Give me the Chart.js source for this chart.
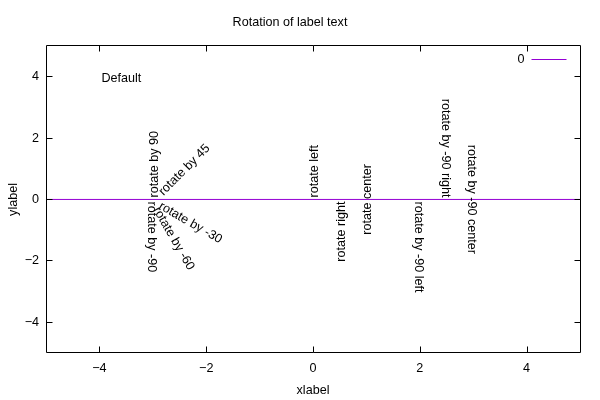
<!DOCTYPE html>
<html>
<head>
<meta charset="utf-8">
<script src="https://cdn.jsdelivr.net/npm/chart.js@4"></script>
<style>
  html, body { margin: 0; padding: 0; background: #fff; }
  #wrap { width: 600px; height: 400px; }
</style>
</head>
<body>
<div id="wrap"><canvas id="chart"></canvas></div>
<script>
// data -----------------------------------------------------------
const xTicks = [-4, -2, 0, 2, 4];
const yTicks = [-4, -2, 0, 2, 4];
const lineX  = [-5, 5];
const lineY  = [0, 0];

// text labels (data coords, angle in degrees ccw, justification)
const labelTexts  = ["Default", "rotate by 45", "rotate by 90", "rotate by -30", "rotate by -60", "rotate by -90",
                     "rotate left", "rotate right", "rotate center",
                     "rotate by -90 left", "rotate by -90 right", "rotate by -90 center"];
const labelX      = [-4, -3, -3, -3, -3, -3, 0, 0.5, 1, 2, 2.5, 3];
const labelY      = [4, 0, 0, 0, 0, 0, 0, 0, 0, 0, 0, 0];
const labelAngles = [0, 45, 90, -30, -60, -90, 90, 90, 90, -90, -90, -90];
const labelAligns = ["left", "left", "left", "left", "left", "left", "left", "right", "center", "left", "right", "center"];

const FONT = "Liberation Sans, Arial, sans-serif";
const FSIZE = 12.6;
const PURPLE = "#9400d3";
const minus = v => String(v).replace("-", "\u2212");

// frame + inward ticks, labels, key ---------------------------------
const decor = {
  id: "decor",
  afterDatasetsDraw(chart) {
    const ctx = chart.ctx;
    const a = chart.chartArea;
    const xs = chart.scales.x, ys = chart.scales.y;
    const L = Math.round(a.left) + 0.5, R = Math.round(a.right) + 0.5;
    const T = Math.round(a.top) - 0.5, B = Math.round(a.bottom) - 0.5;
    ctx.save();
    ctx.strokeStyle = "#000";
    ctx.lineWidth = 1;
    ctx.beginPath();
    ctx.rect(L, T, R - L, B - T);
    xTicks.forEach(v => {
      const px = Math.round(xs.getPixelForValue(v)) + 0.5;
      ctx.moveTo(px, B); ctx.lineTo(px, B - 6);
      ctx.moveTo(px, T); ctx.lineTo(px, T + 6);
    });
    yTicks.forEach(v => {
      const py = Math.floor(ys.getPixelForValue(v)) + 0.5;
      ctx.moveTo(L, py); ctx.lineTo(L + 6, py);
      ctx.moveTo(R, py); ctx.lineTo(R - 6, py);
    });
    ctx.stroke();

    // rotated labels (gnuplot nudges slanted text further along its baseline)
    ctx.fillStyle = "#000";
    ctx.font = FSIZE + "px " + FONT;
    ctx.textBaseline = "middle";
    labelTexts.forEach((t, i) => {
      const th = labelAngles[i] * Math.PI / 180;
      const pad = 2 + 8 * Math.abs(Math.sin(2 * th));
      ctx.save();
      ctx.translate(xs.getPixelForValue(labelX[i]), ys.getPixelForValue(labelY[i]));
      ctx.rotate(-th);
      ctx.textAlign = labelAligns[i];
      const dx = labelAligns[i] === "left" ? pad : labelAligns[i] === "right" ? -pad : 0;
      ctx.fillText(t, dx, 1.5);
      ctx.restore();
    });

    // key
    ctx.textAlign = "right";
    ctx.fillText(chart.data.datasets[0].label, R - 56, T + 14.5);
    ctx.strokeStyle = PURPLE;
    ctx.beginPath();
    ctx.moveTo(R - 49, T + 14);
    ctx.lineTo(R - 14, T + 14);
    ctx.stroke();
    ctx.restore();
  }
};

new Chart(document.getElementById("chart"), {
  type: "line",
  data: {
    datasets: [{
      label: "0",
      data: lineX.map((x, i) => ({ x: x, y: lineY[i] })),
      borderColor: PURPLE,
      borderWidth: 1,
      pointRadius: 0,
      fill: false
    }]
  },
  options: {
    responsive: true,
    maintainAspectRatio: false,
    animation: false,
    layout: { padding: { left: 0, right: 20, top: 0, bottom: 0 } },
    plugins: {
      legend: { display: false },
      tooltip: { enabled: false },
      title: {
        display: true,
        text: "Rotation of label text",
        color: "#000",
        font: { family: FONT, size: FSIZE, weight: "normal", lineHeight: 1.2 },
        padding: { top: 15, bottom: 45.88 - 15 - FSIZE * 1.2 }
      }
    },
    scales: {
      x: {
        type: "linear",
        min: -5, max: 5,
        afterBuildTicks: s => { s.ticks = xTicks.map(v => ({ value: v })); },
        afterFit: s => { s.height = 47; },
        grid: { display: false, drawTicks: false },
        border: { display: false },
        ticks: { color: "#000", padding: 8, font: { family: FONT, size: FSIZE }, callback: minus, maxRotation: 0 },
        title: { display: true, text: "xlabel", color: "#000", font: { family: FONT, size: FSIZE }, padding: { top: 0, bottom: 2 } }
      },
      y: {
        type: "linear",
        min: -5, max: 5,
        afterBuildTicks: s => { s.ticks = yTicks.map(v => ({ value: v })); },
        afterFit: s => { s.width = 46; },
        grid: { display: false, drawTicks: false },
        border: { display: false },
        ticks: { color: "#000", padding: 7, font: { family: FONT, size: FSIZE }, callback: minus },
        title: { display: true, text: "ylabel", color: "#000", font: { family: FONT, size: FSIZE }, padding: { top: 6, bottom: 0 } }
      }
    }
  },
  plugins: [decor]
});
</script>
</body>
</html>
